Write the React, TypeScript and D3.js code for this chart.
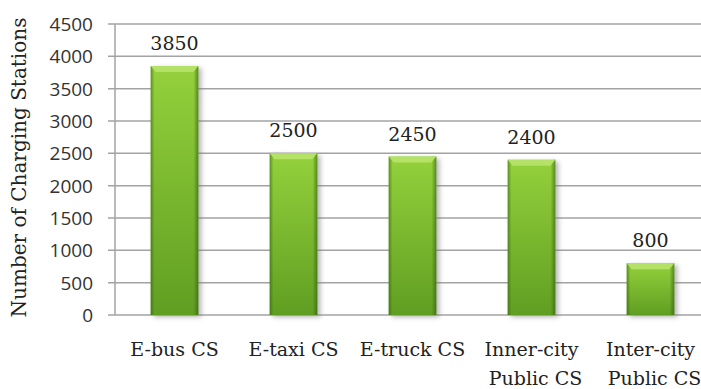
import React, { useEffect, useRef } from 'react';
import * as d3 from 'd3';

const categories = ['E-bus CS', 'E-taxi CS', 'E-truck CS', 'Inner-city\nPublic CS', 'Inter-city\nPublic CS'];
const values = [3850, 2500, 2450, 2400, 800];
const yTicks = [0, 500, 1000, 1500, 2000, 2500, 3000, 3500, 4000, 4500];

export default function App() {
  const svgRef = useRef<SVGSVGElement>(null);

  const width = 701;
  const height = 389;
  const margin = { top: 24, right: -9, bottom: 74, left: 115 };

  useEffect(() => {
    const svg = d3.select(svgRef.current);
    svg.selectAll('*').remove();
    svg.attr('width', width).attr('height', height);

    const defs = svg.append('defs');
    const vg = defs.append('linearGradient').attr('id', 'barV').attr('x1', 0).attr('y1', 0).attr('x2', 0).attr('y2', 1);
    vg.append('stop').attr('offset', '0%').attr('stop-color', '#94d13c');
    vg.append('stop').attr('offset', '100%').attr('stop-color', '#609e22');
    const hg = defs.append('linearGradient').attr('id', 'barH').attr('x1', 0).attr('y1', 0).attr('x2', 1).attr('y2', 0);
    hg.append('stop').attr('offset', '0%').attr('stop-color', '#2f5a0c').attr('stop-opacity', 0.55);
    hg.append('stop').attr('offset', '8%').attr('stop-color', '#2f5a0c').attr('stop-opacity', 0);
    hg.append('stop').attr('offset', '90%').attr('stop-color', '#2f5a0c').attr('stop-opacity', 0);
    hg.append('stop').attr('offset', '100%').attr('stop-color', '#2f5a0c').attr('stop-opacity', 0.6);
    const blur = defs.append('filter').attr('id', 'shadow').attr('x', '-20%').attr('y', '-20%').attr('width', '150%').attr('height', '140%');
    blur.append('feGaussianBlur').attr('stdDeviation', 2.5);

    const x = d3
      .scaleBand()
      .domain(categories)
      .range([margin.left, width - margin.right])
      .paddingInner(0.6)
      .paddingOuter(0.3);

    const y = d3
      .scaleLinear()
      .domain([0, 4500])
      .range([height - margin.bottom, margin.top]);

    // grid lines
    svg
      .append('g')
      .selectAll('line')
      .data(yTicks)
      .enter()
      .append('line')
      .attr('x1', margin.left - 7)
      .attr('x2', width)
      .attr('y1', (d) => y(d))
      .attr('y2', (d) => y(d))
      .attr('stroke', '#a3a3a3')
      .attr('stroke-width', 1.5);

    // y axis line
    svg
      .append('line')
      .attr('x1', margin.left)
      .attr('x2', margin.left)
      .attr('y1', y(4500))
      .attr('y2', y(0))
      .attr('stroke', '#a3a3a3')
      .attr('stroke-width', 1.5);

    // tick labels
    svg
      .append('g')
      .selectAll('text')
      .data(yTicks)
      .enter()
      .append('text')
      .text((d) => d)
      .attr('x', margin.left - 22)
      .attr('y', (d) => y(d) + 7)
      .attr('text-anchor', 'end')
      .attr('font-family', '"Open Sans", sans-serif')
      .attr('font-size', '19px')
      .attr('fill', '#333');

    const bw = x.bandwidth();
    const bars = svg.append('g').selectAll('g').data(values).enter().append('g');

    bars
      .append('rect')
      .attr('x', (d, i) => (x(categories[i]) as number) + 3)
      .attr('y', (d) => y(d) + 2)
      .attr('width', bw)
      .attr('height', (d) => y(0) - y(d))
      .attr('fill', '#777')
      .attr('opacity', 0.55)
      .attr('filter', 'url(#shadow)');

    bars
      .append('rect')
      .attr('x', (d, i) => x(categories[i]) as number)
      .attr('y', (d) => y(d))
      .attr('width', bw)
      .attr('height', (d) => y(0) - y(d))
      .attr('fill', 'url(#barV)');

    bars
      .append('rect')
      .attr('x', (d, i) => x(categories[i]) as number)
      .attr('y', (d) => y(d))
      .attr('width', bw)
      .attr('height', (d) => y(0) - y(d))
      .attr('fill', 'url(#barH)');

    bars
      .append('polygon')
      .attr('points', (d, i) => {
        const x0 = x(categories[i]) as number;
        const y0 = y(d);
        return `${x0},${y0} ${x0 + bw},${y0} ${x0 + bw - 5},${y0 + 6} ${x0 + 5},${y0 + 6}`;
      })
      .attr('fill', '#b4e266');

    // value labels
    svg
      .append('g')
      .selectAll('text')
      .data(values)
      .enter()
      .append('text')
      .text((d) => d)
      .attr('x', (d, i) => (x(categories[i]) as number) + bw / 2)
      .attr('y', (d) => y(d) - 16)
      .attr('text-anchor', 'middle')
      .attr('font-family', '"DejaVu Serif", serif')
      .attr('font-size', '19px')
      .attr('fill', '#222');

    // category labels
    const cat = svg
      .append('g')
      .selectAll('text')
      .data(categories)
      .enter()
      .append('text')
      .attr('x', (d) => (x(d) as number) + bw / 2)
      .attr('y', 356)
      .attr('text-anchor', 'middle')
      .attr('font-family', '"DejaVu Serif", serif')
      .attr('font-size', '19px')
      .attr('fill', '#222');
    cat
      .selectAll('tspan')
      .data((d) => d.split('\n').map((t, j) => ({ t, j, c: d })))
      .enter()
      .append('tspan')
      .attr('x', (d) => (x(d.c) as number) + bw / 2 + (d.j ? 4 : 0))
      .attr('dy', (d) => (d.j ? 29 : 0))
      .text((d) => d.t);

    // axis title
    svg
      .append('text')
      .attr('transform', `translate(26,${(y(0) + y(4500)) / 2 - 2}) rotate(-90)`)
      .attr('text-anchor', 'middle')
      .attr('font-family', '"DejaVu Serif", serif')
      .attr('font-size', '20px')
      .attr('fill', '#222')
      .text('Number of Charging Stations');
  }, []);

  return (
    <svg ref={svgRef} style={{ position: 'absolute', left: 0, top: 0, background: '#fff' }}></svg>
  );
}
